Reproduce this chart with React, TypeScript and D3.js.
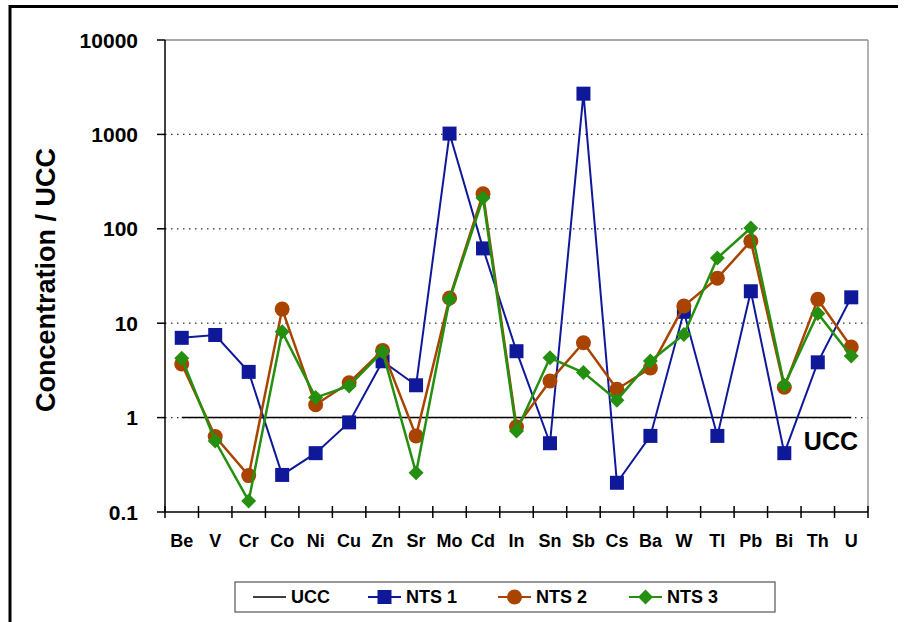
import React from "react";
import * as d3 from "d3";

// Elements along the x axis
const elements = ["Be", "V", "Cr", "Co", "Ni", "Cu", "Zn", "Sr", "Mo", "Cd", "In", "Sn", "Sb", "Cs", "Ba", "W", "Tl", "Pb", "Bi", "Th", "U"];

// Concentrations normalised to upper continental crust (UCC)
const nts1 = [7.0, 7.5, 3.05, 0.247, 0.42, 0.89, 3.95, 2.2, 1020, 62, 5.05, 0.535, 2700, 0.204, 0.64, 13.2, 0.64, 21.8, 0.42, 3.85, 18.8];
const nts2 = [3.7, 0.63, 0.243, 14.1, 1.37, 2.34, 5.15, 0.64, 18.5, 235, 0.8, 2.44, 6.2, 2.0, 3.35, 15.2, 30, 74, 2.1, 17.9, 5.6];
const nts3 = [4.25, 0.565, 0.131, 8.1, 1.63, 2.16, 5.0, 0.26, 17.8, 212, 0.72, 4.3, 3.0, 1.53, 3.98, 7.6, 49, 102, 2.2, 12.7, 4.5];
const ucc = elements.map(() => 1);

const yTicks = [0.1, 1, 10, 100, 1000, 10000];
const yTickLabels = ["0.1", "1", "10", "100", "1000", "10000"];

const FONT = "'Liberation Sans', Arial, Helvetica, sans-serif";
const BLUE = "#10189a";
const ORANGE = "#a84400";
const GREEN = "#259010";

const left = 165;
const right = 868;
const top = 40;
const bottom = 512;

const x = d3.scaleBand<string>().domain(elements).range([left, right]).padding(0);
const y = d3.scaleLog().domain([0.1, 10000]).range([bottom, top]);
const cx = (e: string) => (x(e) as number) + x.bandwidth() / 2;

const line = d3
  .line<number>()
  .x((_, i) => cx(elements[i]))
  .y((d) => y(d));

function Marker({ kind, px, py, color }: { kind: string; px: number; py: number; color: string }) {
  if (kind === "square") {
    return <rect x={px - 7} y={py - 7} width={14} height={14} fill={color} />;
  }
  if (kind === "circle") {
    return <circle cx={px} cy={py} r={7.5} fill={color} />;
  }
  const s = 7.5;
  return <path d={`M${px},${py - s}L${px + s},${py}L${px},${py + s}L${px - s},${py}Z`} fill={color} />;
}

const series = [
  { name: "NTS 1", values: nts1, color: BLUE, kind: "square", width: 2 },
  { name: "NTS 2", values: nts2, color: ORANGE, kind: "circle", width: 2.5 },
  { name: "NTS 3", values: nts3, color: GREEN, kind: "diamond", width: 2.5 },
];

export default function App() {
  const bounds = d3.range(elements.length + 1).map((i) => left + i * x.bandwidth());
  const legendItems = [
    { name: "UCC", x0: 253, color: "#000", kind: "", width: 1.5 },
    { name: "NTS 1", x0: 368, color: BLUE, kind: "square", width: 2 },
    { name: "NTS 2", x0: 498, color: ORANGE, kind: "circle", width: 2 },
    { name: "NTS 3", x0: 629, color: GREEN, kind: "diamond", width: 2 },
  ];
  return (
    <div style={{ position: "absolute", left: 0, top: 0 }}>
      <svg width={909} height={622} style={{ display: "block", background: "#fff" }} fontFamily={FONT}>
        {/* outer frame */}
        <line x1={9} y1={6.5} x2={898} y2={6.5} stroke="#000" strokeWidth={3} />
        <line x1={10} y1={5} x2={10} y2={622} stroke="#000" strokeWidth={3} />

        {/* gridlines */}
        {yTicks.slice(1, -1).map((t) => (
          <line key={t} x1={left} x2={right} y1={y(t)} y2={y(t)} stroke="#333" strokeWidth={1.2} strokeDasharray="1.5 4.5" />
        ))}
        {/* plot area border */}
        <line x1={left} x2={right} y1={top} y2={top} stroke="#8c8c8c" strokeWidth={1.5} />
        <line x1={right} x2={right} y1={top} y2={bottom} stroke="#9a9a9a" strokeWidth={1.5} />

        {/* y axis */}
        <line x1={left} x2={left} y1={top} y2={bottom} stroke="#000" strokeWidth={1.5} />
        {yTicks.map((t, i) => (
          <g key={t}>
            <line x1={157} x2={left} y1={y(t)} y2={y(t)} stroke="#000" strokeWidth={1.5} />
            <text x={138} y={y(t)} dy="0.36em" textAnchor="end" fontSize={21} fontWeight="bold">
              {yTickLabels[i]}
            </text>
          </g>
        ))}
        <text
          transform={`translate(55,280) rotate(-90)`}
          textAnchor="middle"
          fontSize={27}
          fontWeight="bold"
        >
          Concentration / UCC
        </text>

        {/* x axis */}
        <line x1={left} x2={right} y1={bottom} y2={bottom} stroke="#000" strokeWidth={1.5} />
        {bounds.map((b, i) => (
          <line key={i} x1={b} x2={b} y1={bottom - 6} y2={bottom + 6} stroke="#000" strokeWidth={1.5} />
        ))}
        {elements.map((e) => (
          <text key={e} x={cx(e)} y={547} textAnchor="middle" fontSize={18} fontWeight="bold">
            {e}
          </text>
        ))}

        {/* UCC reference */}
        <path d={line(ucc) ?? ""} fill="none" stroke="#000" strokeWidth={1.5} />
        <text x={858} y={450} textAnchor="end" fontSize={25} fontWeight="bold">
          UCC
        </text>

        {/* sample series */}
        {series.map((s) => (
          <g key={s.name}>
            <path d={line(s.values) ?? ""} fill="none" stroke={s.color} strokeWidth={s.width} />
            {s.values.map((v, i) => (
              <Marker key={i} kind={s.kind} px={cx(elements[i])} py={y(v)} color={s.color} />
            ))}
          </g>
        ))}

        {/* legend */}
        <rect x={235} y={582} width={540} height={30} fill="#fff" stroke="#555" strokeWidth={1.2} />
        {legendItems.map((it) => (
          <g key={it.name}>
            <line x1={it.x0} x2={it.x0 + 33} y1={597} y2={597} stroke={it.color} strokeWidth={it.width} />
            {it.kind && <Marker kind={it.kind} px={it.x0 + 16.5} py={597} color={it.color} />}
            <text x={it.x0 + 38} y={597} dy="0.36em" fontSize={18} fontWeight="bold">
              {it.name}
            </text>
          </g>
        ))}
      </svg>
    </div>
  );
}
